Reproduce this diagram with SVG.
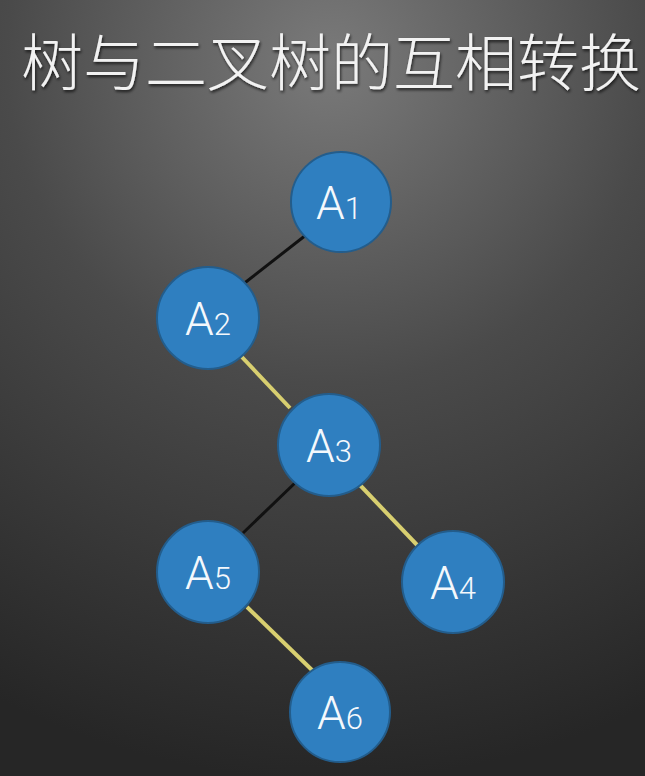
<svg xmlns="http://www.w3.org/2000/svg" width="645" height="776" viewBox="0 0 645 776">
<defs>
<radialGradient id="bg" cx="330" cy="60" r="720" gradientUnits="userSpaceOnUse">
<stop offset="0" stop-color="#7a7a7a"/>
<stop offset="0.45" stop-color="#4a4a4a"/>
<stop offset="1" stop-color="#262626"/>
</radialGradient>
<filter id="sh" x="-10%" y="-20%" width="120%" height="140%">
<feDropShadow dx="1" dy="2" stdDeviation="1.5" flood-color="#000" flood-opacity="0.7"/>
</filter>
<style>
.node circle{fill:#2f7fc0;stroke:#235d8c;stroke-width:2}
.lbl{font-family:Roboto,"Liberation Sans",sans-serif;font-weight:300;fill:#f4f8fc}
.big{font-size:46px}
.sub{font-size:31px}
.blk{stroke:#111;stroke-width:3}
.yel{stroke:#d8cf70;stroke-width:4}
.title{font-family:"Noto Sans CJK SC",sans-serif;font-size:62px;font-weight:300;fill:#f2f2f2}
</style>
</defs>
<rect width="645" height="776" fill="url(#bg)"/>
<text class="title" x="21" y="86" filter="url(#sh)">树与二叉树的互相转换</text>
<g id="connectors">
<line class="blk" x1="306" y1="235" x2="242" y2="285"/>
<line class="yel" x1="240" y1="355" x2="290" y2="408"/>
<line class="blk" x1="296" y1="482" x2="243" y2="533"/>
<line class="yel" x1="358" y1="483" x2="419" y2="547"/>
<line class="yel" x1="247" y1="607" x2="313" y2="671"/>
</g>
<g id="A1" class="node"><circle cx="341" cy="202" r="50"/><text class="lbl" x="339" y="219" text-anchor="middle"><tspan class="big">A</tspan><tspan class="sub">1</tspan></text></g>
<g id="A2" class="node"><circle cx="208" cy="318" r="51"/><text class="lbl" x="208" y="335" text-anchor="middle"><tspan class="big">A</tspan><tspan class="sub">2</tspan></text></g>
<g id="A3" class="node"><circle cx="329" cy="445" r="51"/><text class="lbl" x="329" y="462" text-anchor="middle"><tspan class="big">A</tspan><tspan class="sub">3</tspan></text></g>
<g id="A5" class="node"><circle cx="208" cy="572" r="51"/><text class="lbl" x="208" y="589" text-anchor="middle"><tspan class="big">A</tspan><tspan class="sub">5</tspan></text></g>
<g id="A4" class="node"><circle cx="453" cy="582" r="51"/><text class="lbl" x="453" y="599" text-anchor="middle"><tspan class="big">A</tspan><tspan class="sub">4</tspan></text></g>
<g id="A6" class="node"><circle cx="340" cy="712" r="50"/><text class="lbl" x="340" y="729" text-anchor="middle"><tspan class="big">A</tspan><tspan class="sub">6</tspan></text></g>
</svg>
